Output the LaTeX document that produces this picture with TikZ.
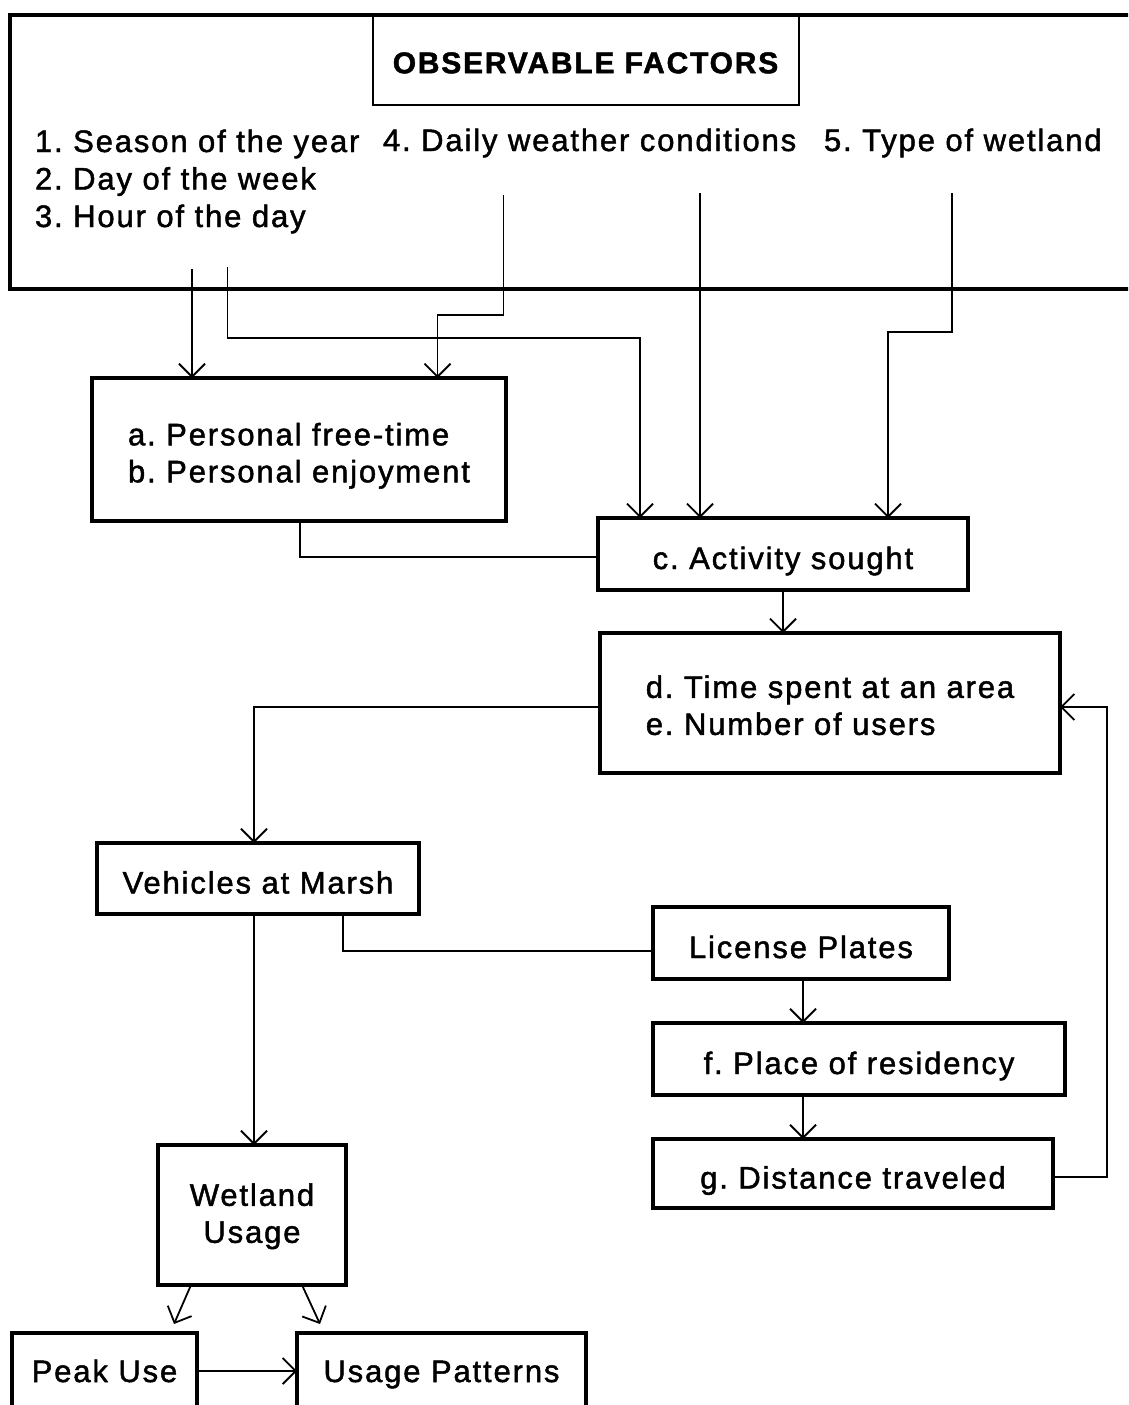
\documentclass[tikz,border=0pt]{standalone}
\usepackage{fontspec}
\setmainfont{Liberation Sans}[LetterSpace=6, FakeBold=1.5]
\usetikzlibrary{arrows.meta}
\newcommand\bodyfnt{\fontsize{31}{37}\selectfont}
\newcommand\titlefnt{\fontsize{30}{36}\selectfont\bfseries}
\frenchspacing
\begin{document}
\frenchspacing
\begin{tikzpicture}[x=1pt,y=-1pt,
  box/.style={draw, line width=3.5pt, inner sep=0pt, outer sep=0pt, font=\bodyfnt, align=center},
  one/.style={text height=34pt, text depth=4pt},
  low/.style={text height=22pt, text depth=0pt},
  obsbox/.style={draw, line width=4pt, inner sep=0pt, outer sep=0pt},
  titlebox/.style={draw, line width=2pt, inner sep=0pt, outer sep=0pt, font=\titlefnt, text height=27.5pt, text depth=0pt},
  item/.style={anchor=base west, inner sep=0pt, outer sep=0pt, font=\bodyfnt},
  conn/.style={line width=1.8pt},
  arr/.style={conn, -{Straight Barb[length=13pt,width=26pt]}}
]
\fill[white] (0,0) rectangle (1128,1405);
\clip (0,0) rectangle (1128,1405);

% observable factors frame
\node[obsbox, minimum width=1130pt, minimum height=274pt] (obs) at (575,152) {};
\node[titlebox, minimum width=426pt, minimum height=90pt] (title) at (585.5,59.5) {OBSERVABLE FACTORS};
\node[item] (t1) at (35,152) {1. Season of the year};
\node[item] (t2) at (35,189.5) {2. Day of the week};
\node[item] (t3) at (35,227) {3. Hour of the day};
\node[item] (t4) at (383,151) {4. Daily weather conditions};
\node[item] (t5) at (824,151) {5. Type of wetland};

% boxes
\node[box, minimum width=414pt, minimum height=143pt, align=left] (ab) at (299,449.5) {\rule{0pt}{35pt}a. Personal free-time\\b. Personal enjoyment};
\node[box, one, minimum width=370pt, minimum height=72pt] (c) at (783,554) {c. Activity sought};
\node[box, minimum width=460pt, minimum height=140pt, align=left] (de) at (830,703) {\rule{0pt}{27pt}d. Time spent at an area\\e. Number of users};
\node[box, one, minimum width=322pt, minimum height=71pt] (veh) at (258,878.5) {Vehicles at Marsh};
\node[box, one, minimum width=296pt, minimum height=72pt] (lic) at (801,943) {License Plates};
\node[box, one, minimum width=412pt, minimum height=72pt] (fbox) at (859,1059) {f. Place of residency};
\node[box, one, minimum width=400pt, minimum height=69pt] (gbox) at (853,1173.5) {g. Distance traveled};
\node[box, minimum width=188pt, minimum height=140pt] (wet) at (252,1215) {\rule{0pt}{25pt}Wetland\\Usage};
\node[box, low, minimum width=185pt, minimum height=76pt] (peak) at (104.5,1371) {Peak Use};
\node[box, low, minimum width=289pt, minimum height=76pt] (pat) at (441.5,1371) {Usage Patterns};

% connector points
\coordinate (s1) at (192,269);
\coordinate (s2) at (227.5,267);
\coordinate (j2) at (640,338);
\coordinate (s4) at (503.5,195);
\coordinate (j4) at (437.5,315);
\coordinate (s5) at (700,193);
\coordinate (s6) at (952,193);
\coordinate (j6) at (888,332);
\coordinate (k1) at (300,557);
\coordinate (k2) at (254,707);
\coordinate (k3) at (343,951);
\coordinate (k4) at (803,1000);
\coordinate (k5) at (1107,1177);
\coordinate (k6) at (1107,707);
\coordinate (w1) at (191,1290);
\coordinate (w2) at (174,1324);
\coordinate (w3) at (302,1290);
\coordinate (w4) at (320,1324);

% connectors
\draw[arr] (s1) -- (s1 |- ab.north);
\draw[arr] (s2) |- (j2) -- (j2 |- c.north);
\draw[arr] (s4) |- (j4) -- (j4 |- ab.north);
\draw[arr] (s5) -- (s5 |- c.north);
\draw[arr] (s6) |- (j6) -- (j6 |- c.north);
\draw[conn] (k1 |- ab.south) -- (k1) -- (k1 -| c.west);
\draw[arr] (c.south) -- (c.south |- de.north);
\draw[arr] (k2 -| de.west) -- (k2) -- (k2 |- veh.north);
\draw[arr] (k2 |- veh.south) -- (k2 |- wet.north);
\draw[conn] (k3 |- veh.south) -- (k3) -- (k3 -| lic.west);
\draw[arr] (k4 |- lic.south) -- (k4 |- fbox.north);
\draw[arr] (k4 |- fbox.south) -- (k4 |- gbox.north);
\draw[arr] (k5 -| gbox.east) -- (k5) -- (k6) -- (k6 -| de.east);
\draw[arr] (w1 |- wet.south) -- (w2);
\draw[arr] (w3 |- wet.south) -- (w4);
\draw[arr] (peak.east) -- (pat.west);
\end{tikzpicture}
\end{document}
